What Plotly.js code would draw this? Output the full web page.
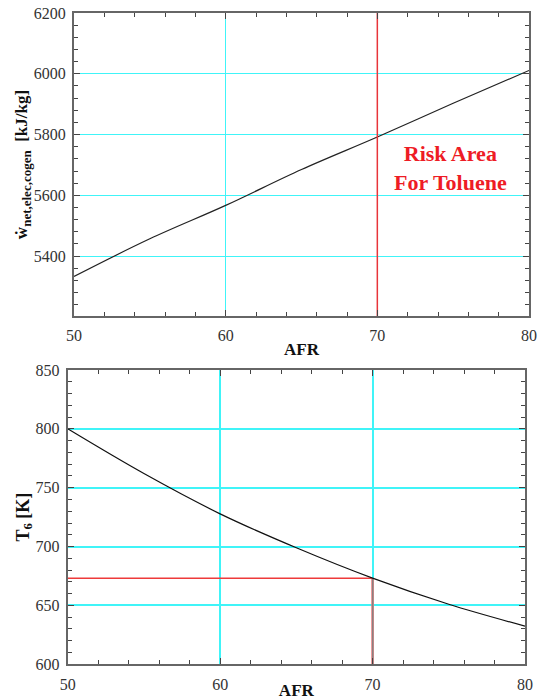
<!DOCTYPE html>
<html>
<head>
<meta charset="utf-8">
<script src="https://cdn.plot.ly/plotly-3.0.1.min.js"></script>
<style>html,body{margin:0;padding:0;background:#fff;}#chart{width:539px;height:700px;}</style>
</head>
<body>
<div id="chart"></div>
<script>
// ---- data ----
const afrTop = [50, 55, 60, 65, 70, 75, 80];
const wNet = [5333, 5457, 5567, 5685, 5792, 5903, 6011];
const afrBot = [50, 55, 60, 65, 70, 75, 80];
const t6 = [800, 762, 727.8, 699, 673.2, 651, 632.4];
const riskAFR = 70;
const riskT6 = 673.2;
const topYRange = [5203, 6200];
const botYRange = [600, 850];
const xRange = [50, 80];
const riskLabel = "Risk Area<br>For Toluene";
const riskLabelPos = [74.85, 5690];

const FONT = "Liberation Serif";
const CYAN = "#40f4f8";

function axisBase(extra) {
  return Object.assign({
    showline: true, mirror: "allticks", linecolor: "#666", linewidth: 2,
    ticks: "inside", ticklen: 6, tickwidth: 1, tickcolor: "#444",
    tickfont: {family: FONT, size: 16, color: "#333"},
    zeroline: false, automargin: false, fixedrange: true
  }, extra);
}

const traces = [
  {x: afrTop, y: wNet, xaxis: "x", yaxis: "y", mode: "lines", line: {color: "#222", width: 1.2, shape: "spline"}, hoverinfo: "skip"},
  {x: [riskAFR, riskAFR], y: [topYRange[0], topYRange[1]], xaxis: "x", yaxis: "y", mode: "lines", line: {color: "#e8343a", width: 1.5}, hoverinfo: "skip"},
  {x: [xRange[0], riskAFR], y: [riskT6, riskT6], xaxis: "x2", yaxis: "y2", mode: "lines", line: {color: "#ee3a3a", width: 1.5}, hoverinfo: "skip"},
  {x: [riskAFR, riskAFR], y: [riskT6, botYRange[0]], xaxis: "x2", yaxis: "y2", mode: "lines", line: {color: "#e87070", width: 2.5}, hoverinfo: "skip"},
  {x: [riskAFR, riskAFR], y: [riskT6, botYRange[0]], xaxis: "x2", yaxis: "y2", mode: "lines", line: {color: "#8a8080", width: 1.2}, hoverinfo: "skip"},
  {x: afrBot, y: t6, xaxis: "x2", yaxis: "y2", mode: "lines", line: {color: "#111", width: 1.2, shape: "spline"}, hoverinfo: "skip"}
];

const layout = {
  width: 539, height: 700,
  margin: {l: 0, r: 0, t: 0, b: 0},
  paper_bgcolor: "#fff", plot_bgcolor: "#fff",
  showlegend: false,
  font: {family: FONT},
  xaxis: axisBase({
    domain: [74/539, 529/539], anchor: "y", range: xRange, dtick: 10,
    showgrid: true, gridcolor: CYAN, gridwidth: 1,
    minor: {dtick: 2, ticks: "inside", ticklen: 4, tickcolor: "#444", showgrid: false},
    ticklabelstandoff: 4,
    title: {text: "<b>AFR</b>", font: {family: FONT, size: 17, color: "#111"}, standoff: 0}
  }),
  yaxis: axisBase({
    domain: [(700-316)/700, (700-13)/700], anchor: "x", range: topYRange, dtick: 200, tick0: 5200,
    showgrid: true, gridcolor: CYAN, gridwidth: 1,
    minor: {dtick: 40, ticks: "inside", ticklen: 4, tickcolor: "#444", showgrid: false},
    ticklabelstandoff: 3,
    title: {text: "<b>ẇ<sub><span style=\"font-size:13px\">net,elec,cogen</span></sub>  [kJ/kg]</b>", font: {family: FONT, size: 17, color: "#111"}, standoff: 0}
  }),
  xaxis2: axisBase({
    domain: [67.7/539, 525/539], anchor: "y2", range: xRange, dtick: 10,
    showgrid: true, gridcolor: CYAN, gridwidth: 2,
    minor: {dtick: 2, ticks: "inside", ticklen: 4, tickcolor: "#444", showgrid: false},
    ticklabelstandoff: 4,
    title: {text: "<b>AFR</b>", font: {family: FONT, size: 17, color: "#111"}, standoff: 9}
  }),
  yaxis2: axisBase({
    domain: [(700-664.3)/700, (700-370)/700], anchor: "x2", range: botYRange, dtick: 50,
    showgrid: true, gridcolor: CYAN, gridwidth: 2,
    minor: {dtick: 10, ticks: "inside", ticklen: 4, tickcolor: "#444", showgrid: false},
    ticklabelstandoff: 3,
    title: {text: "<b>T<sub>6</sub> [K]</b>", font: {family: FONT, size: 18, color: "#111"}, standoff: 0}
  }),
  annotations: [{
    x: riskLabelPos[0], y: riskLabelPos[1], xref: "x", yref: "y",
    text: "<b>" + riskLabel + "</b>", showarrow: false,
    font: {family: FONT, size: 22, color: "#ee1c25"}, align: "center"
  }]
};

Plotly.newPlot("chart", traces, layout, {displayModeBar: false, staticPlot: true});
</script>
</body>
</html>
